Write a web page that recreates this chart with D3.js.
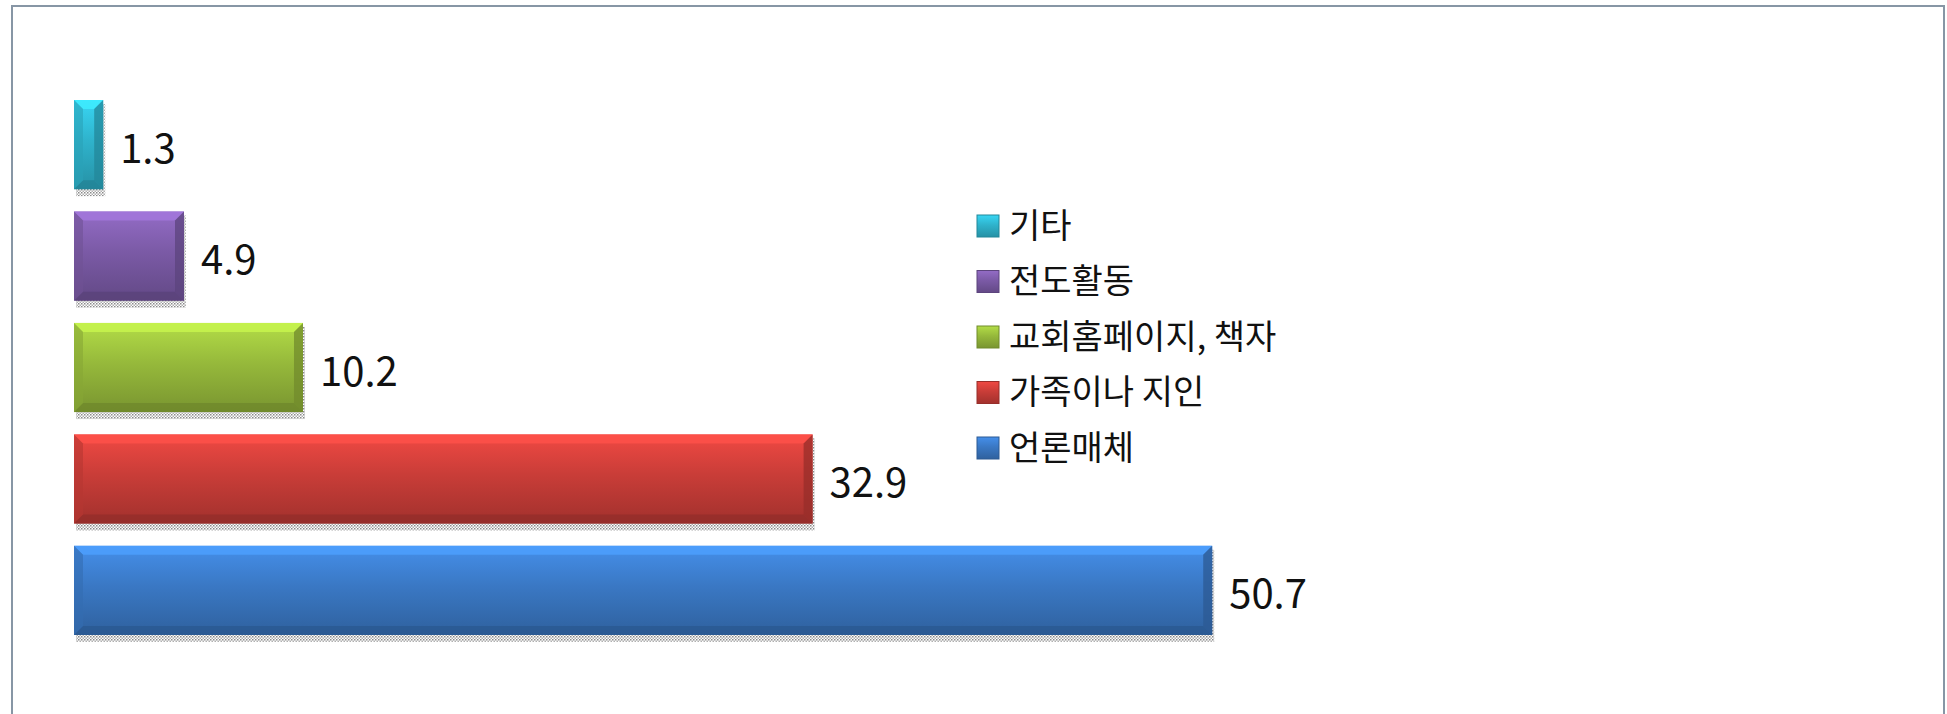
<!DOCTYPE html>
<html>
<head>
<meta charset="utf-8">
<script src="https://cdn.jsdelivr.net/npm/d3@7"></script>
<style>
  html, body { margin: 0; padding: 0; background: #fff; }
  svg { display: block; }
</style>
</head>
<body>
<div id="chart"></div>
<script>
// Data, top to bottom as drawn
const categories = ["기타", "전도활동", "교회홈페이지, 책자", "가족이나 지인", "언론매체"];
const values = [1.3, 4.9, 10.2, 32.9, 50.7];
const colors = ["#2fb3cc", "#7b5aa6", "#96b93b", "#c93d38", "#3a78c4"];

(function draw() {
  const width = 1947, height = 714;

  const svg = d3.select("#chart").append("svg")
    .attr("width", width).attr("height", height);

  const defs = svg.append("defs");

  // dotted shadow pattern under bars
  const pat = defs.append("pattern")
    .attr("id", "dots").attr("width", 3).attr("height", 3)
    .attr("patternUnits", "userSpaceOnUse");
  pat.append("rect").attr("width", 3).attr("height", 3).attr("fill", "#fff");
  pat.append("rect").attr("width", 1.5).attr("height", 1.5).attr("fill", "#8a8a8a");
  pat.append("rect").attr("x", 1.5).attr("y", 1.5).attr("width", 1.5).attr("height", 1.5).attr("fill", "#b0b0b0");

  // vertical gradient per colour
  colors.forEach((c, i) => {
    const g = defs.append("linearGradient")
      .attr("id", "grad" + i).attr("x1", 0).attr("y1", 0).attr("x2", 0).attr("y2", 1);
    g.append("stop").attr("offset", "0%").attr("stop-color", d3.color(c).brighter(0.5));
    g.append("stop").attr("offset", "45%").attr("stop-color", c);
    g.append("stop").attr("offset", "100%").attr("stop-color", d3.color(c).darker(0.6));
  });

  // outer frame
  svg.append("rect")
    .attr("x", 12).attr("y", 6)
    .attr("width", 1932).attr("height", 720)
    .attr("fill", "none").attr("stroke", "#8796a5").attr("stroke-width", 2);

  const x = d3.scaleLinear().domain([0, 60]).range([74, 74 + 60 * 22.45]);
  const y = d3.scaleBand().domain(categories).range([100, 635]).paddingInner(0.2).paddingOuter(0);

  const bev = 9;
  const bars = svg.selectAll(".bar").data(categories).join("g").attr("class", "bar");

  // shadow
  bars.append("rect")
    .attr("x", x(0) + 2)
    .attr("y", d => y(d) + 4)
    .attr("width", (d, i) => x(values[i]) - x(0))
    .attr("height", y.bandwidth() + 3)
    .attr("fill", "url(#dots)");

  bars.append("rect")
    .attr("x", x(0))
    .attr("y", d => y(d))
    .attr("width", (d, i) => x(values[i]) - x(0))
    .attr("height", y.bandwidth())
    .attr("fill", (d, i) => `url(#grad${i})`);

  // bevel edges
  const edge = (d, i, side) => {
    const x0 = x(0), x1 = x(values[i]), y0 = y(d), y1 = y(d) + y.bandwidth();
    const b = Math.min(bev, (x1 - x0) / 2);
    if (side === "top") return `M${x0},${y0}L${x1},${y0}L${x1 - b},${y0 + b}L${x0 + b},${y0 + b}Z`;
    if (side === "bottom") return `M${x0},${y1}L${x1},${y1}L${x1 - b},${y1 - b}L${x0 + b},${y1 - b}Z`;
    if (side === "left") return `M${x0},${y0}L${x0 + b},${y0 + b}L${x0 + b},${y1 - b}L${x0},${y1}Z`;
    return `M${x1},${y0}L${x1 - b},${y0 + b}L${x1 - b},${y1 - b}L${x1},${y1}Z`;
  };
  bars.append("path").attr("d", (d, i) => edge(d, i, "top"))
    .attr("fill", (d, i) => d3.color(colors[i]).brighter(0.8)).attr("opacity", 0.8);
  bars.append("path").attr("d", (d, i) => edge(d, i, "bottom"))
    .attr("fill", (d, i) => d3.color(colors[i]).darker(0.9)).attr("opacity", 0.7);
  bars.append("path").attr("d", (d, i) => edge(d, i, "left"))
    .attr("fill", (d, i) => d3.color(colors[i]).darker(0.3)).attr("opacity", 0.6);
  bars.append("path").attr("d", (d, i) => edge(d, i, "right"))
    .attr("fill", (d, i) => d3.color(colors[i]).darker(0.8)).attr("opacity", 0.75);

  // value labels
  bars.append("text")
    .attr("x", (d, i) => x(values[i]) + 17)
    .attr("y", d => y(d) + y.bandwidth() / 2 + 4)
    .attr("dy", "0.35em")
    .attr("font-family", "'Noto Sans CJK KR', 'DejaVu Sans', sans-serif")
    .attr("font-size", "40px")
    .attr("fill", "#111")
    .text((d, i) => values[i]);

  // legend, listed top to bottom the same as the bars
  const legendY = d3.scalePoint().domain(categories).range([226, 448]);
  const leg = svg.selectAll(".legend").data(categories).join("g").attr("class", "legend")
    .attr("transform", d => `translate(977, ${legendY(d)})`);
  leg.append("rect")
    .attr("x", 0).attr("y", -11).attr("width", 22).attr("height", 22)
    .attr("fill", (d, i) => `url(#grad${i})`)
    .attr("stroke", (d, i) => d3.color(colors[i]).darker(0.8)).attr("stroke-width", 1);
  leg.append("text")
    .attr("x", 32).attr("y", 0).attr("dy", "0.35em")
    .attr("font-family", "'Noto Sans CJK KR', sans-serif")
    .attr("font-size", "34px")
    .attr("fill", "#111")
    .text(d => d);
})();
</script>
</body>
</html>
